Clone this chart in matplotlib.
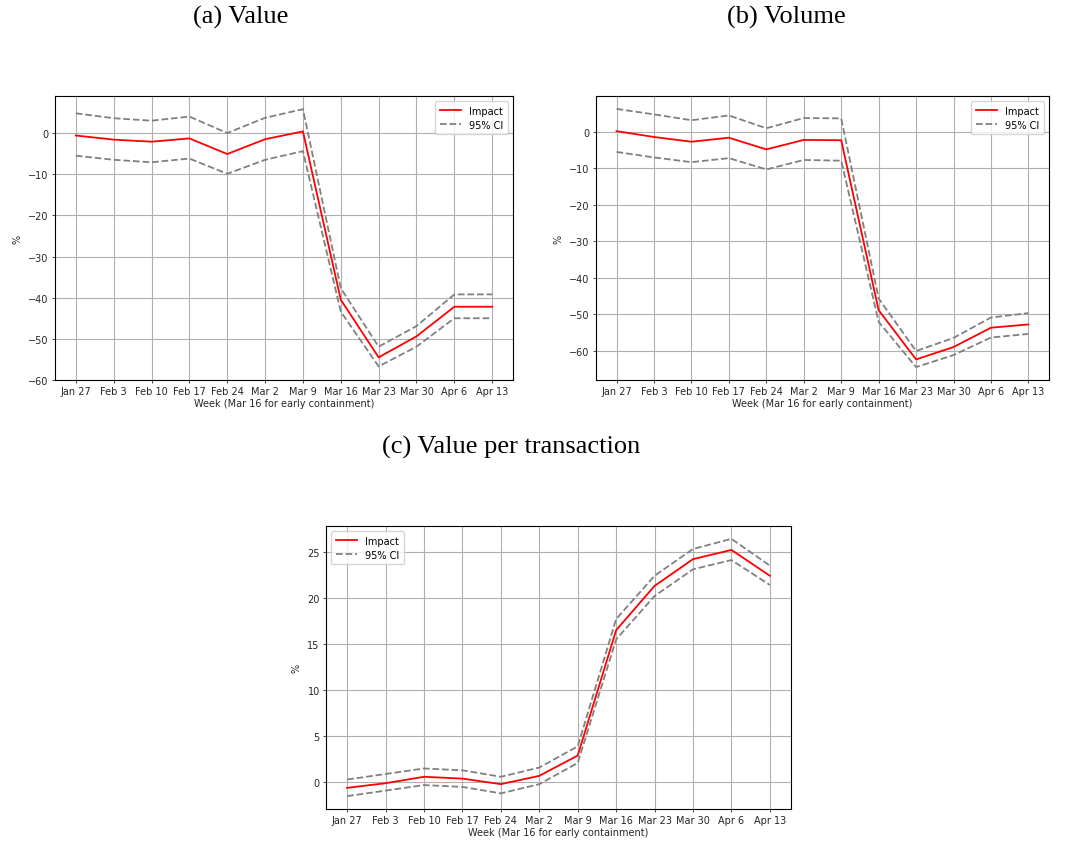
import matplotlib
matplotlib.use("Agg")
from matplotlib import pyplot as plt

weeks = ["Jan 27", "Feb 3", "Feb 10", "Feb 17", "Feb 24", "Mar 2", "Mar 9",
         "Mar 16", "Mar 23", "Mar 30", "Apr 6", "Apr 13"]

# (a) value
value_impact = [-0.6, -1.6, -2.1, -1.3, -5.1, -1.5, 0.4, -40.5, -54.5, -49.4, -42.2, -42.2]
value_upper = [4.8, 3.6, 3.0, 4.0, 0.0, 3.7, 5.8, -37.7, -51.9, -46.9, -39.2, -39.2]
value_lower = [-5.5, -6.5, -7.1, -6.2, -9.9, -6.5, -4.4, -43.4, -56.7, -51.9, -45.0, -45.0]

# (b) volume
volume_impact = [0.2, -1.4, -2.7, -1.6, -4.8, -2.2, -2.3, -48.9, -62.4, -59.0, -53.7, -52.8]
volume_upper = [6.3, 4.8, 3.2, 4.5, 1.0, 3.8, 3.7, -45.7, -60.1, -56.5, -50.9, -49.7]
volume_lower = [-5.5, -7.0, -8.3, -7.2, -10.3, -7.7, -7.9, -52.1, -64.5, -61.2, -56.4, -55.4]

# (c) value per transaction
vpt_impact = [-0.6, -0.1, 0.6, 0.4, -0.2, 0.7, 2.9, 16.5, 21.3, 24.2, 25.2, 22.4]
vpt_upper = [0.3, 0.9, 1.5, 1.3, 0.6, 1.6, 3.9, 17.7, 22.4, 25.3, 26.4, 23.5]
vpt_lower = [-1.5, -0.9, -0.3, -0.5, -1.2, -0.2, 2.1, 15.5, 20.2, 23.1, 24.1, 21.4]

W, H = 1066, 845
fig = plt.figure(figsize=(W / 100, H / 100), dpi=100)
fig.patch.set_facecolor("white")


def px_axes(left, top, right, bottom):
    # axes box given in pixels from the top-left corner
    return fig.add_axes([left / W, 1 - bottom / H, (right - left) / W, (bottom - top) / H])


def panel(ax, impact, upper, lower, legend_loc):
    x = range(len(weeks))
    ax.plot(x, impact, color="red", lw=1.3, label="Impact")
    ax.plot(x, upper, color="grey", ls="--", lw=1.3, label="95% CI")
    ax.plot(x, lower, color="grey", ls="--", lw=1.3)
    ax.set_xticks(list(x))
    ax.set_xticklabels(weeks)
    ax.tick_params(labelsize=7, length=2.5, width=0.6, pad=2, colors="#262626")
    ax.grid(True, color="#b0b0b0", lw=0.8)
    ax.set_axisbelow(True)
    ax.set_xlabel("Week (Mar 16 for early containment)", fontsize=7, labelpad=1, color="#262626")
    ax.set_ylabel("%", fontsize=7, labelpad=4, color="#262626")
    for s in ax.spines.values():
        s.set_linewidth(0.8)
    ax.legend(loc=legend_loc, fontsize=7, handlelength=2.2, borderpad=0.5, labelspacing=0.4)


ax_a = px_axes(55, 97, 513, 381)
panel(ax_a, value_impact, value_upper, value_lower, "upper right")
ax_a.set_ylim(-60, 9)

ax_b = px_axes(596, 97, 1049, 381)
panel(ax_b, volume_impact, volume_upper, volume_lower, "upper right")

ax_c = px_axes(326, 527, 791, 810)
panel(ax_c, vpt_impact, vpt_upper, vpt_lower, "upper left")

title_font = dict(family="Liberation Serif", fontsize=19, ha="center", va="center")
fig.text(241 / W, 1 - 17 / H, "(a) Value", **title_font)
fig.text(786 / W, 1 - 17 / H, "(b) Volume", **title_font)
fig.text(511 / W, 1 - 447 / H, "(c) Value per transaction", **title_font)

fig.savefig("out.png", dpi=100)
